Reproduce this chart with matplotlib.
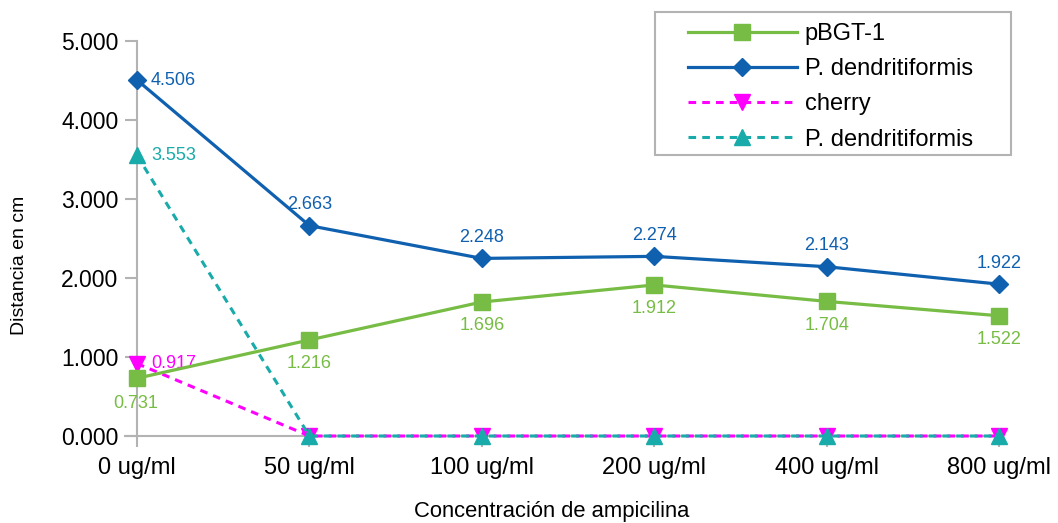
import matplotlib
matplotlib.use("Agg")
import matplotlib.pyplot as plt
from matplotlib.patches import Rectangle

plt.rcParams['font.family'] = ['Liberation Sans', 'DejaVu Sans']

categories = ["0 ug/ml", "50 ug/ml", "100 ug/ml", "200 ug/ml", "400 ug/ml", "800 ug/ml"]
pbgt = [0.731, 1.216, 1.696, 1.912, 1.704, 1.522]
pden = [4.506, 2.663, 2.248, 2.274, 2.143, 1.922]
cherry = [0.917, 0.0, 0.0, 0.0, 0.0, 0.0]
pden2 = [3.553, 0.0, 0.0, 0.0, 0.0, 0.0]
yticks = [0, 1, 2, 3, 4, 5]

green = "#77bc44"
blue = "#1060b0"
mag = "#ff00ff"
teal = "#19aaaa"
axc = "#b3b3b3"

W, H = 1058, 523
fig = plt.figure(figsize=(W/100, H/100), dpi=100)
ax = fig.add_axes([137/W, 1-436/H, (999-137)/W, (436-41)/H])
x = list(range(len(categories)))

ax.plot(x, pbgt, color=green, lw=2.3, marker='s', ms=11.5, label="pBGT-1", clip_on=False, zorder=4)
ax.plot(x, pden, color=blue, lw=2.3, marker='D', ms=9.5, label="P. dendritiformis", clip_on=False, zorder=5)
ax.plot(x, cherry, color=mag, lw=2.2, ls=(0, (2.5, 2)), marker='v', ms=11.5, label="cherry", clip_on=False, zorder=3)
ax.plot(x, pden2, color=teal, lw=2.2, ls=(0, (2.5, 2)), marker='^', ms=11.5, label="P. dendritiformis", clip_on=False, zorder=3)

fs_lab = 13
for i, v in enumerate(pden):
    if i == 0:
        ax.annotate(f"{v:.3f}", (i, v), xytext=(10, 0), textcoords='offset points', color=blue, fontsize=fs_lab, va='center', ha='left')
    else:
        ax.annotate(f"{v:.3f}", (i, v), xytext=(0, 9), textcoords='offset points', color=blue, fontsize=fs_lab, va='bottom', ha='center')
for i, v in enumerate(pbgt):
    if i == 0:
        ax.annotate(f"{v:.3f}", (i, v), xytext=(-1, -12), textcoords='offset points', color=green, fontsize=fs_lab, va='top', ha='center')
    else:
        ax.annotate(f"{v:.3f}", (i, v), xytext=(0, -11), textcoords='offset points', color=green, fontsize=fs_lab, va='top', ha='center')
ax.annotate(f"{cherry[0]:.3f}", (0, cherry[0]), xytext=(10, 0), textcoords='offset points', color=mag, fontsize=fs_lab, va='center', ha='left')
ax.annotate(f"{pden2[0]:.3f}", (0, pden2[0]), xytext=(10, 0), textcoords='offset points', color=teal, fontsize=fs_lab, va='center', ha='left')

ax.set_xlim(0, 5)
ax.set_ylim(0, 5)
ax.set_yticks(yticks)
ax.set_yticklabels([f"{t:.3f}" for t in yticks])
ax.set_xticks(x)
ax.set_xticklabels(categories)

for s in ['top', 'right']:
    ax.spines[s].set_visible(False)
for s in ['left', 'bottom']:
    ax.spines[s].set_color(axc)
    ax.spines[s].set_linewidth(1.5)
ax.spines['bottom'].set_bounds(-0.07, 5)
ax.tick_params(axis='y', length=8.5, width=1.5, color=axc, labelsize=16.5, pad=5)
ax.tick_params(axis='x', length=8, width=1.5, color=axc, labelsize=17, pad=7)
ax.set_ylabel("Distancia en cm", fontsize=14, va='center')
ax.yaxis.set_label_coords((20-137)/862, (436-265)/395)
ax.set_xlabel("Concentración de ampicilina", fontsize=15.8, va='center')
ax.xaxis.set_label_coords((552-137)/862, (436-512)/395)

# legend frame drawn as a separate rectangle
fig.patches.append(Rectangle((655/W, 1-155/H), (1011-655)/W, (155-12)/H, transform=fig.transFigure,
                             fill=False, edgecolor=axc, linewidth=1.5, zorder=10))
leg = ax.legend(loc='upper left', bbox_to_anchor=(688/W, 1-23/H), bbox_transform=fig.transFigure,
                fontsize=17, frameon=False, handlelength=4.6, borderpad=0,
                labelspacing=0.56, handletextpad=0.35, borderaxespad=0, markerscale=1.0)

fig.savefig("out.png", dpi=100)
